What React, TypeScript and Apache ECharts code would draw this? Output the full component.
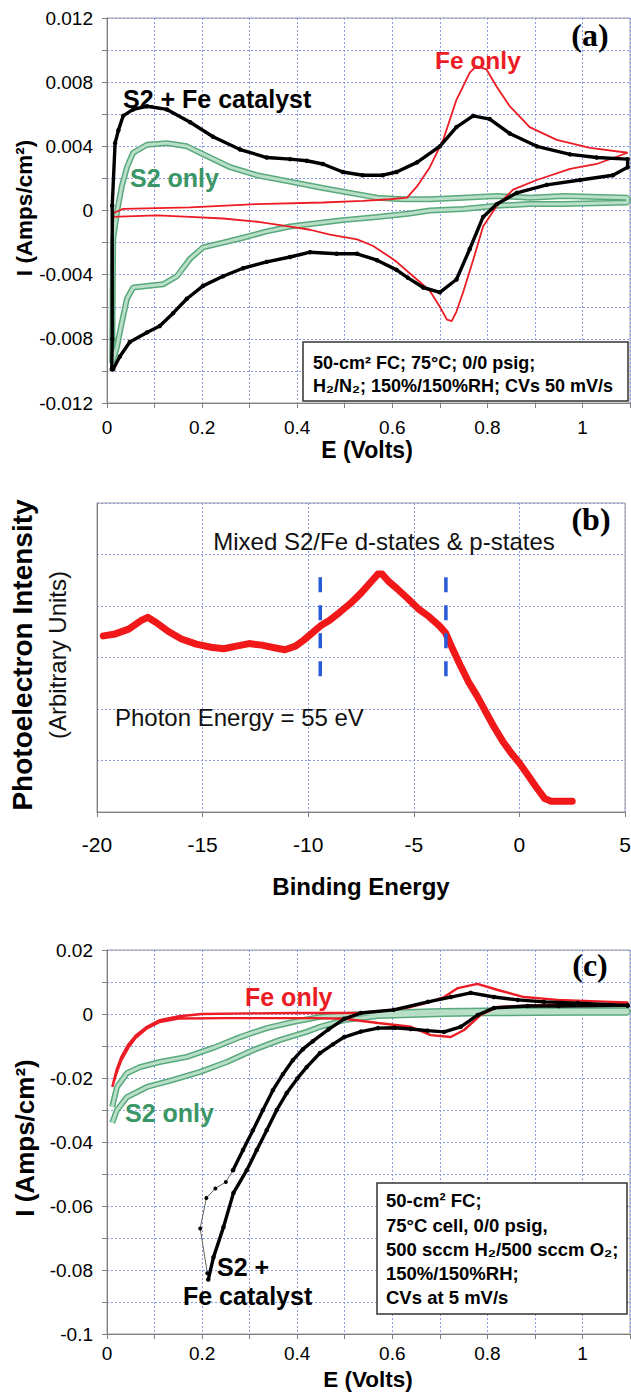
import React, { useEffect, useRef } from "react";
import * as echarts from "echarts";

type P = [number, number];

// ---------- Panel (a): CVs 50 mV/s, H2/N2 ----------
const aXTicks = [0, 0.2, 0.4, 0.6, 0.8, 1];
const aYTicks = [-0.012, -0.008, -0.004, 0, 0.004, 0.008, 0.012];

const aBlackUpper: P[] = [
  [0.010, -0.0099], [0.011, -0.0080], [0.011, 0.0003], [0.017, 0.0042], [0.024, 0.0050],
  [0.034, 0.0059], [0.055, 0.0063], [0.084, 0.0065], [0.126, 0.0063], [0.175, 0.0055],
  [0.223, 0.0046], [0.280, 0.0038], [0.336, 0.0033], [0.385, 0.0032], [0.420, 0.0031],
  [0.454, 0.0029], [0.496, 0.0024], [0.538, 0.0022], [0.580, 0.0022], [0.609, 0.0024],
  [0.652, 0.0030], [0.700, 0.0040], [0.735, 0.0052], [0.770, 0.0059], [0.805, 0.0057],
  [0.847, 0.0048], [0.904, 0.0040], [0.974, 0.0035], [1.030, 0.0033], [1.095, 0.0032],
];
const aBlackLower: P[] = [
  [1.095, 0.0027], [1.064, 0.0022], [0.995, 0.0019], [0.925, 0.0016], [0.862, 0.0011],
  [0.820, 0.0004], [0.791, -0.0004], [0.763, -0.0024], [0.735, -0.0043], [0.700, -0.0051],
  [0.665, -0.0048], [0.633, -0.0042], [0.609, -0.0037], [0.568, -0.0031], [0.526, -0.0027],
  [0.483, -0.0027], [0.427, -0.0026], [0.385, -0.0029], [0.336, -0.0032], [0.286, -0.0036],
  [0.244, -0.0041], [0.202, -0.0047], [0.168, -0.0055], [0.139, -0.0064], [0.111, -0.0072],
  [0.084, -0.0076], [0.048, -0.0082], [0.027, -0.0091], [0.013, -0.0099],
];
const aRedUpper: P[] = [
  [0.010, -0.0002], [0.034, 0.0001], [0.175, 0.0002], [0.315, 0.0004], [0.454, 0.0005],
  [0.538, 0.0006], [0.595, 0.0007], [0.631, 0.0008], [0.652, 0.0015], [0.679, 0.0027],
  [0.707, 0.0044], [0.735, 0.0069], [0.763, 0.0086], [0.777, 0.0090], [0.798, 0.0088],
  [0.820, 0.0077], [0.847, 0.0065], [0.889, 0.0052], [0.946, 0.0044], [1.016, 0.0039],
  [1.095, 0.0036],
];
const aRedLower: P[] = [
  [1.095, 0.0036], [1.030, 0.0029], [0.974, 0.0026], [0.904, 0.0019], [0.854, 0.0013],
  [0.820, 0.0003], [0.791, -0.0010], [0.770, -0.0031], [0.749, -0.0051], [0.735, -0.0063],
  [0.725, -0.0069], [0.715, -0.0068], [0.700, -0.0060], [0.679, -0.0050], [0.644, -0.0041],
  [0.609, -0.0032], [0.595, -0.0029], [0.559, -0.0022], [0.526, -0.0018], [0.469, -0.0015],
  [0.427, -0.0012], [0.385, -0.0010], [0.315, -0.0007], [0.244, -0.0005], [0.175, -0.0004],
  [0.105, -0.0003], [0.010, -0.0004],
];
const aGreenUpper: P[] = [
  [0.011, -0.0095], [0.012, -0.0050], [0.013, -0.0018], [0.021, -0.0001], [0.031, 0.0015],
  [0.042, 0.0027], [0.055, 0.0036], [0.084, 0.0041], [0.126, 0.0042], [0.168, 0.0040],
  [0.210, 0.0034], [0.259, 0.0027], [0.315, 0.0022], [0.385, 0.0018], [0.454, 0.0014],
  [0.511, 0.0011], [0.568, 0.0008], [0.622, 0.0007], [0.679, 0.0007], [0.749, 0.0008],
  [0.820, 0.0009], [0.890, 0.0008], [0.960, 0.0009], [1.095, 0.0008],
];
const aGreenLower: P[] = [
  [1.095, 0.0005], [0.960, 0.0004], [0.890, 0.0004], [0.820, 0.0003], [0.749, 0.0001],
  [0.679, 0.0000], [0.633, -0.0002], [0.568, -0.0004], [0.496, -0.0006], [0.441, -0.0008],
  [0.385, -0.0010], [0.336, -0.0013], [0.286, -0.0017], [0.244, -0.0020], [0.202, -0.0023],
  [0.175, -0.0030], [0.147, -0.0041], [0.118, -0.0046], [0.084, -0.0047], [0.055, -0.0048],
  [0.042, -0.0055], [0.031, -0.0070], [0.021, -0.0085], [0.011, -0.0095],
];

// ---------- Panel (b): photoemission spectrum ----------
const bXTicks = [-20, -15, -10, -5, 0, 5];
const bSpectrum: P[] = [
  [-19.7, 3.42], [-19.2, 3.45], [-18.5, 3.55], [-17.9, 3.72], [-17.6, 3.78], [-17.2, 3.68],
  [-16.6, 3.50], [-16.0, 3.36], [-15.3, 3.26], [-14.6, 3.20], [-14.0, 3.17], [-13.4, 3.22],
  [-12.8, 3.27], [-12.2, 3.24], [-11.6, 3.19], [-11.1, 3.15], [-10.6, 3.22], [-10.2, 3.34],
  [-9.8, 3.48], [-9.4, 3.62], [-9.0, 3.72], [-8.5, 3.88], [-8.0, 4.05], [-7.5, 4.25],
  [-7.0, 4.48], [-6.7, 4.62], [-6.5, 4.62], [-6.2, 4.48], [-5.8, 4.34], [-5.3, 4.15],
  [-4.8, 3.95], [-4.3, 3.80], [-3.8, 3.62], [-3.5, 3.48], [-3.2, 3.20], [-2.8, 2.85],
  [-2.4, 2.52], [-2.0, 2.25], [-1.6, 1.95], [-1.2, 1.65], [-0.8, 1.38], [-0.4, 1.15],
  [0.0, 0.95], [0.4, 0.72], [0.8, 0.48], [1.2, 0.26], [1.5, 0.21], [2.0, 0.21], [2.5, 0.21],
];
const bDashLeft: P[] = [[-9.43, 4.56], [-9.43, 2.62]];
const bDashRight: P[] = [[-3.48, 4.56], [-3.48, 2.62]];

// ---------- Panel (c): CVs 5 mV/s, H2/O2 ----------
const cYTicks = [-0.1, -0.08, -0.06, -0.04, -0.02, 0, 0.02];
const cRedUpper: P[] = [
  [0.011, -0.0228], [0.020, -0.0175], [0.030, -0.0135], [0.045, -0.0095], [0.060, -0.0068],
  [0.084, -0.0040], [0.111, -0.0019], [0.147, -0.0008], [0.200, 0.0000], [0.300, 0.0002],
  [0.400, 0.0003], [0.494, 0.0003], [0.534, 0.0004], [0.603, 0.0013], [0.639, 0.0022],
  [0.675, 0.0036], [0.709, 0.0053], [0.738, 0.0081], [0.779, 0.0094], [0.822, 0.0075],
  [0.877, 0.0053], [0.948, 0.0044], [1.060, 0.0038], [1.095, 0.0036],
];
const cRedLower: P[] = [
  [1.095, 0.0030], [0.919, 0.0028], [0.822, 0.0022], [0.786, -0.0003], [0.751, -0.0050],
  [0.723, -0.0072], [0.681, -0.0066], [0.639, -0.0040], [0.570, -0.0028], [0.500, -0.0015],
  [0.440, -0.0013], [0.385, -0.0013], [0.250, -0.0013], [0.150, -0.0014], [0.111, -0.0025],
  [0.084, -0.0045], [0.060, -0.0075], [0.045, -0.0105], [0.030, -0.0145], [0.020, -0.0185],
  [0.011, -0.0228],
];
const cGreenUpper: P[] = [
  [0.011, -0.0290], [0.021, -0.0228], [0.042, -0.0185], [0.069, -0.0166], [0.111, -0.0150],
  [0.168, -0.0134], [0.223, -0.0106], [0.280, -0.0072], [0.336, -0.0044], [0.391, -0.0025],
  [0.448, -0.0009], [0.500, -0.0003], [0.600, 0.0005], [0.700, 0.0009], [0.800, 0.0011],
  [0.900, 0.0012], [1.000, 0.0012], [1.095, 0.0012],
];
const cGreenLower: P[] = [
  [1.095, 0.0004], [1.000, 0.0004], [0.900, 0.0003], [0.800, 0.0002], [0.710, 0.0000],
  [0.570, -0.0006], [0.499, -0.0019], [0.448, -0.0040], [0.420, -0.0056], [0.364, -0.0081],
  [0.307, -0.0113], [0.252, -0.0150], [0.196, -0.0181], [0.139, -0.0206], [0.084, -0.0228],
  [0.042, -0.0260], [0.021, -0.0300], [0.011, -0.0340],
];
const cBlackSparse: P[] = [
  [0.211, -0.0810], [0.196, -0.0670], [0.209, -0.0575], [0.228, -0.0545], [0.250, -0.0525],
  [0.265, -0.0488],
];
const cBlackUpper: P[] = [
  [0.265, -0.0488], [0.286, -0.0425], [0.307, -0.0363], [0.328, -0.0300], [0.349, -0.0238],
  [0.370, -0.0188], [0.391, -0.0144], [0.412, -0.0110], [0.433, -0.0085], [0.466, -0.0048],
  [0.499, -0.0015], [0.534, 0.0003], [0.603, 0.0013], [0.675, 0.0038], [0.723, 0.0053],
  [0.765, 0.0066], [0.814, 0.0053], [0.864, 0.0044], [0.919, 0.0038], [0.990, 0.0034],
  [1.095, 0.0027],
];
const cBlackLower: P[] = [
  [1.095, 0.0026], [0.950, 0.0025], [0.885, 0.0025], [0.814, 0.0019], [0.780, -0.0003],
  [0.744, -0.0040], [0.709, -0.0056], [0.674, -0.0052], [0.639, -0.0047], [0.605, -0.0043],
  [0.570, -0.0044], [0.534, -0.0055], [0.499, -0.0072], [0.475, -0.0095], [0.448, -0.0122],
  [0.420, -0.0166], [0.400, -0.0202], [0.378, -0.0247], [0.357, -0.0300], [0.336, -0.0363],
  [0.315, -0.0425], [0.294, -0.0488], [0.266, -0.0559], [0.245, -0.0666], [0.224, -0.0760],
  [0.213, -0.0830],
];

// ---------- styling ----------
const SANS = "'Liberation Sans', Arial, sans-serif";
const SERIF = "'Liberation Serif', 'Times New Roman', serif";
const GRID = "#8d9be6";
const AXIS = "#808080";
const RED = "#ec1c24";
const GREEN_TXT = "#3a9666";
const GREEN_OUT = "#5aa97c";
const GREEN_IN = "#b9dfc9";

const near = (v: number, list: number[]) => list.some((t) => Math.abs(t - v) < 1e-9);
const fmt = (list: number[]) => (v: number) => {
  if (!near(v, list)) return "";
  if (Math.abs(v) < 1e-12) return "0";
  return String(parseFloat(v.toPrecision(6)));
};
const fmtA = (v: number) => {
  if (!near(v, aYTicks)) return "";
  if (Math.abs(v) < 1e-12) return "0";
  return v.toFixed(3);
};

function xAxisCfg(gridIndex: number, min: number, max: number, interval: number, ticks: number[], fontSize: number, margin: number) {
  return {
    type: "value", gridIndex, min, max, interval,
    axisLine: { show: true, onZero: false, lineStyle: { color: AXIS, width: 1 } },
    axisTick: { show: true, length: 5, lineStyle: { color: AXIS } },
    axisLabel: { formatter: fmt(ticks), fontSize, color: "#000", fontFamily: SANS, margin },
    splitLine: { show: true, lineStyle: { color: GRID, type: [2, 2], width: 1 } },
  };
}
function yAxisCfg(gridIndex: number, min: number, max: number, interval: number, formatter: any, fontSize: number, showLabel: boolean) {
  return {
    type: "value", gridIndex, min, max, interval,
    axisLine: { show: true, onZero: false, lineStyle: { color: AXIS, width: 1 } },
    axisTick: { show: showLabel, length: 5, lineStyle: { color: AXIS } },
    axisLabel: { show: showLabel, formatter, fontSize, color: "#000", fontFamily: SANS, margin: 14 },
    splitLine: { show: true, lineStyle: { color: GRID, type: [2, 2], width: 1 } },
  };
}
function line(idx: number, data: P[], color: string, width: number, extra: any = {}) {
  return {
    type: "line", xAxisIndex: idx, yAxisIndex: idx, data,
    symbol: "none", showSymbol: false, silent: true,
    lineStyle: { color, width }, itemStyle: { color },
    ...extra,
  };
}
function dotted(idx: number, data: P[], width: number) {
  return line(idx, data, "#000", width, { symbol: "circle", showSymbol: true, symbolSize: 4.5 });
}
function tube(idx: number, data: P[]) {
  return [line(idx, data, GREEN_OUT, 6), line(idx, data, GREEN_IN, 3)];
}
function txt(x: number, y: number, text: string, size: number, opts: any = {}) {
  const align = opts.align || "left";
  return {
    type: "text", x, y, rotation: opts.rotation || 0, z: 100,
    style: {
      text, fill: opts.color || "#000", fontSize: size, fontWeight: opts.weight || "normal",
      fontFamily: opts.family || SANS,
      align, verticalAlign: "middle", textAlign: align, textVerticalAlign: "middle",
    },
  };
}

const option: any = {
  animation: false,
  backgroundColor: "#fff",
  grid: [
    { left: 107, top: 18, width: 523, height: 385, show: true, borderColor: "#9a9a9a", borderWidth: 1, containLabel: false, outerBoundsMode: "none" },
    { left: 97, top: 503, width: 528, height: 309, show: true, borderColor: "#9a9a9a", borderWidth: 1, containLabel: false, outerBoundsMode: "none" },
    { left: 107, top: 950, width: 523, height: 384, show: true, borderColor: "#9a9a9a", borderWidth: 1, containLabel: false, outerBoundsMode: "none" },
  ],
  xAxis: [
    xAxisCfg(0, 0, 1.1, 0.1, aXTicks, 19, 15),
    xAxisCfg(1, -20, 5, 5, bXTicks, 21, 22),
    xAxisCfg(2, 0, 1.1, 0.1, aXTicks, 19, 10),
  ],
  yAxis: [
    yAxisCfg(0, -0.012, 0.012, 0.002, fmtA, 19, true),
    yAxisCfg(1, 0, 6, 1, () => "", 19, false),
    yAxisCfg(2, -0.1, 0.02, 0.01, fmt(cYTicks), 19, true),
  ],
  series: [
    // (a)
    ...tube(0, [...aGreenUpper, ...aGreenLower]),
    line(0, [...aRedUpper, ...aRedLower], RED, 1.8),
    dotted(0, [...aBlackUpper, ...aBlackLower], 3.4),
    // (b)
    line(1, bSpectrum, "#f01818", 7, { lineStyle: { color: "#f01818", width: 7, cap: "round", join: "round" } }),
    line(1, bDashLeft, "#2a5bd7", 3.5, { lineStyle: { color: "#2a5bd7", width: 3.5, type: [15, 13] } }),
    line(1, bDashRight, "#2a5bd7", 3.5, { lineStyle: { color: "#2a5bd7", width: 3.5, type: [15, 13] } }),
    // (c)
    ...tube(2, [...cGreenUpper, ...cGreenLower]),
    line(2, [...cRedUpper, ...cRedLower], RED, 2.4),
    line(2, cBlackSparse, "#666", 1, { symbol: "circle", showSymbol: true, symbolSize: 4, itemStyle: { color: "#000" } }),
    dotted(2, [...cBlackUpper, ...cBlackLower], 3.4),
  ],
  graphic: [
    // (a)
    txt(590, 35, "(a)", 32, { align: "center", weight: "bold", family: SERIF }),
    txt(435, 60, "Fe only", 24.5, { weight: "bold", color: RED }),
    txt(123, 99, "S2 + Fe catalyst", 25, { weight: "bold" }),
    txt(130, 178, "S2 only", 25, { weight: "bold", color: GREEN_TXT }),
    { type: "rect", z: 99, shape: { x: 303, y: 342, width: 325, height: 59 }, style: { fill: "#fff", stroke: "#333", lineWidth: 1.5 } },
    txt(313, 363, "50-cm² FC; 75°C; 0/0 psig;", 18, { weight: "bold" }),
    txt(313, 386, "H₂/N₂; 150%/150%RH; CVs 50 mV/s", 18, { weight: "bold" }),
    txt(24, 208, "I (Amps/cm²)", 22.5, { align: "center", weight: "bold", rotation: Math.PI / 2 }),
    txt(367, 450, "E (Volts)", 23, { align: "center", weight: "bold" }),
    // (b)
    txt(591, 519, "(b)", 32, { align: "center", weight: "bold", family: SERIF }),
    txt(384, 541, "Mixed S2/Fe d-states & p-states", 24, { align: "center", color: "#111" }),
    txt(115, 717, "Photon Energy = 55 eV", 24, { color: "#111" }),
    txt(22, 655, "Photoelectron Intensity", 28, { align: "center", weight: "bold", rotation: Math.PI / 2 }),
    txt(57, 655, "(Arbitrary Units)", 24, { align: "center", rotation: Math.PI / 2, color: "#111" }),
    txt(361, 886, "Binding Energy", 24, { align: "center", weight: "bold" }),
    // (c)
    txt(590, 965, "(c)", 32, { align: "center", weight: "bold", family: SERIF }),
    txt(245, 997, "Fe only", 25, { weight: "bold", color: RED }),
    txt(125, 1113, "S2 only", 25, { weight: "bold", color: GREEN_TXT }),
    txt(217, 1267, "S2 +", 25, { weight: "bold" }),
    txt(183, 1296, "Fe catalyst", 25, { weight: "bold" }),
    { type: "rect", z: 99, shape: { x: 377, y: 1183, width: 250, height: 131 }, style: { fill: "#fff", stroke: "#333", lineWidth: 1.5 } },
    txt(386, 1200, "50-cm² FC;", 18.5, { weight: "bold" }),
    txt(386, 1225, "75°C cell, 0/0 psig,", 18.5, { weight: "bold" }),
    txt(386, 1249, "500 sccm H₂/500 sccm O₂;", 18.5, { weight: "bold" }),
    txt(386, 1273, "150%/150%RH;", 18.5, { weight: "bold" }),
    txt(386, 1297, "CVs at 5 mV/s", 18.5, { weight: "bold" }),
    txt(25, 1138, "I (Amps/cm²)", 26, { align: "center", weight: "bold", rotation: Math.PI / 2 }),
    txt(368, 1379, "E (Volts)", 22.5, { align: "center", weight: "bold" }),
  ],
};

export default function App() {
  const ref = useRef<HTMLDivElement>(null);
  useEffect(() => {
    if (!ref.current) return;
    const chart = echarts.init(ref.current, null, { renderer: "svg" });
    chart.setOption(option);
    return () => chart.dispose();
  }, []);
  return (
    <div
      ref={ref}
      style={{ position: "absolute", left: 0, top: 0, width: 631, height: 1392, background: "#fff" }}
    />
  );
}
